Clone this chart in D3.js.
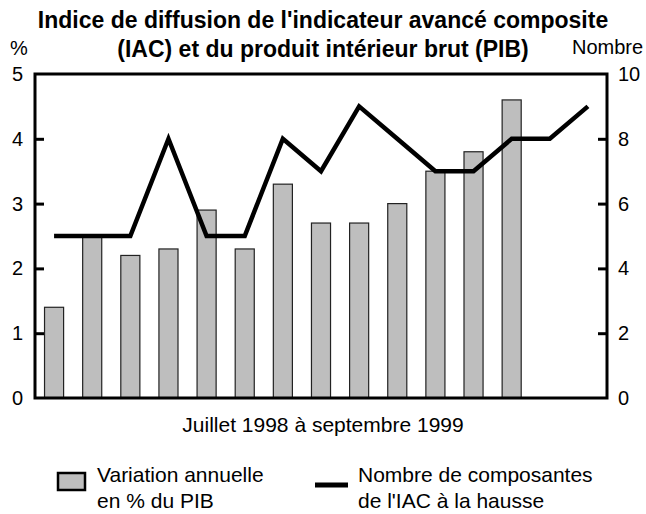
<!DOCTYPE html>
<html><head><meta charset="utf-8">
<script src="https://cdn.jsdelivr.net/npm/d3@7"></script>
<style>body{margin:0;background:#fff;} svg text{font-family:"Liberation Sans",Arial,sans-serif;fill:#000;}</style>
</head><body>
<svg id="c" width="646" height="514"></svg>
<script>
const months = ["1998-07","1998-08","1998-09","1998-10","1998-11","1998-12","1999-01","1999-02","1999-03","1999-04","1999-05","1999-06","1999-07","1999-08","1999-09"];
const gdp = [1.4,2.5,2.2,2.3,2.9,2.3,3.3,2.7,2.7,3.0,3.5,3.8,4.6,null,null];
const iac = [5,5,5,8,5,5,8,7,9,8,7,7,8,8,9];
const leftTicks = [0,1,2,3,4,5];
const rightTicks = [0,2,4,6,8,10];

const svg = d3.select("#c");
const L=35,R=607,T=74,B=398;
const x = d3.scaleBand().domain(months).range([L,R]).paddingInner(0.5).paddingOuter(0.25);
const yL = d3.scaleLinear().domain([0,5]).range([B,T]);
const yR = d3.scaleLinear().domain([0,10]).range([B,T]);

// bars
svg.append("g").selectAll("rect").data(months.map((m,i)=>({m,v:gdp[i]})).filter(d=>d.v!=null))
 .join("rect").attr("x",d=>x(d.m)).attr("width",x.bandwidth())
 .attr("y",d=>yL(d.v)).attr("height",d=>B-yL(d.v))
 .attr("fill","#bebebe").attr("stroke","#222").attr("stroke-width",1.2);

// line
const line = d3.line().x((d,i)=>x(months[i])+x.bandwidth()/2).y(d=>yR(d));
svg.append("path").datum(iac).attr("d",line).attr("fill","none").attr("stroke","#000").attr("stroke-width",4.5).attr("stroke-linejoin","miter");

// frame
svg.append("rect").attr("x",L).attr("y",T).attr("width",R-L).attr("height",B-T).attr("fill","none").attr("stroke","#000").attr("stroke-width",3);

// axes
const ax = svg.append("g").attr("transform",`translate(${L},0)`).call(d3.axisLeft(yL).tickValues(leftTicks).tickSize(-9).tickPadding(12).tickFormat(d3.format("d")));
const ax2 = svg.append("g").attr("transform",`translate(${R},0)`).call(d3.axisRight(yR).tickValues(rightTicks).tickSize(-9).tickPadding(11).tickFormat(d3.format("d")));
[ax,ax2].forEach(a=>{
  a.select(".domain").remove();
  a.selectAll("line").attr("stroke","#000").attr("stroke-width",3);
  a.selectAll("text").attr("font-size",20).attr("font-family",null).attr("fill","#000");
});
ax.selectAll("line").filter(d=>d===0||d===5).remove();
ax2.selectAll("line").filter(d=>d===0||d===10).remove();

// titles
const t = svg.append("text").attr("text-anchor","middle").attr("font-weight","bold").attr("font-size",23).attr("fill","#000");
t.append("tspan").attr("x",323).attr("y",28).text("Indice de diffusion de l'indicateur avancé composite");
t.append("tspan").attr("x",323).attr("y",57).text("(IAC) et du produit intérieur brut (PIB)");
svg.append("text").attr("x",10).attr("y",55).attr("font-size",20).text("%");
svg.append("text").attr("x",572).attr("y",54).attr("font-size",20).text("Nombre");
svg.append("text").attr("x",323).attr("y",432).attr("text-anchor","middle").attr("font-size",21).text("Juillet 1998 à septembre 1999");

// legend
svg.append("rect").attr("x",58).attr("y",473).attr("width",27).attr("height",17).attr("fill","#bebebe").attr("stroke","#000").attr("stroke-width",2.5);
const l1 = svg.append("text").attr("font-size",21);
l1.append("tspan").attr("x",97).attr("y",482).text("Variation annuelle");
l1.append("tspan").attr("x",97).attr("y",508).text("en % du PIB");
svg.append("line").attr("x1",315).attr("x2",348).attr("y1",485).attr("y2",485).attr("stroke","#000").attr("stroke-width",5);
const l2 = svg.append("text").attr("font-size",21);
l2.append("tspan").attr("x",358).attr("y",482).text("Nombre de composantes");
l2.append("tspan").attr("x",358).attr("y",508).text("de l'IAC à la hausse");
</script>
</body></html>
